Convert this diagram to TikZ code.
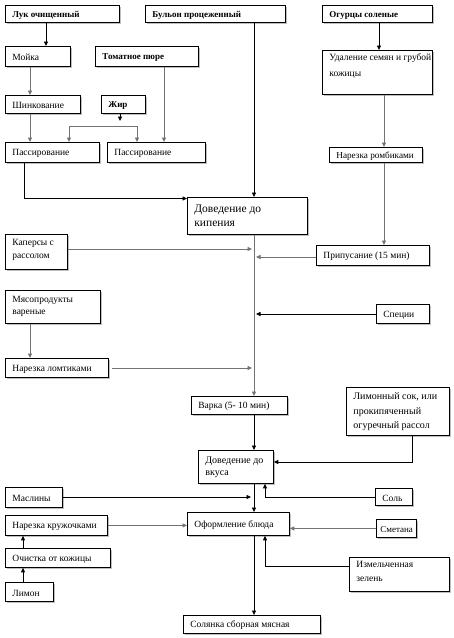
\documentclass[tikz,border=0pt]{standalone}
\usepackage{fontspec}
\setmainfont{Liberation Serif}
\usetikzlibrary{arrows.meta,shadows}
\tikzset{
  boxst/.style={draw, line width=0.8pt, fill=white, inner sep=0pt, anchor=north west,
    drop shadow={shadow xshift=1.3pt, shadow yshift=-1.3pt, fill=black, opacity=0.25}},
  ln/.style={line width=0.8pt, draw=black},
  gln/.style={line width=0.9pt, draw=black!55},
  arr/.style={-{Triangle[length=4.5pt,width=4pt]}},
}
\newcommand\fsb{\fontsize{9}{11}\selectfont\bfseries}
\newcommand\fsn{\fontsize{9.5}{12}\selectfont}
% name, x, y, w, h, inner pos, top pad, font, text
\newcommand\bx[9]{%
  \node[boxst] (#1) at (#2,#3) {\begin{minipage}[t][#5pt][#6]{#4pt}%
    \vspace*{#7pt}\leftskip=7pt#8\rightskip=-40pt plus 1fil\parindent=0pt
    \rule{0pt}{9pt}#9\par\end{minipage}};}
\begin{document}
\begin{tikzpicture}[x=1pt,y=-1pt]
\useasboundingbox (0,0) rectangle (454,638);
% boxes
\bx{luk}{5}{5}{114}{17}{c}{0}{\fsb}{Лук очищенный}
\bx{bul}{145}{5}{140}{17}{c}{0}{\fsb}{Бульон процеженный}
\bx{ogu}{322}{5}{110}{17}{c}{0}{\fsb}{Огурцы соленые}
\bx{moy}{5}{46}{65}{20}{c}{0}{\fsn}{Мойка}
\bx{tom}{95}{46}{103}{20}{c}{0}{\fsb}{Томатное пюре}
\bx{shi}{5}{95}{75}{18}{c}{0}{\fsn}{Шинкование}
\bx{zhi}{101}{95}{44}{18}{c}{0}{\fsb}{Жир}
\bx{pas1}{5}{142}{94}{20}{c}{0}{\fsn}{Пассирование}
\bx{pas2}{107}{142}{98}{20}{c}{0}{\fsn}{Пассирование}
\bx{uda}{322}{50}{110}{44}{t}{1}{\fontsize{9.5}{16}\selectfont}{Удаление семян и грубой\\кожицы}
\bx{rom}{329}{147}{93}{15}{c}{0}{\fontsize{9.2}{12}\selectfont}{Нарезка ромбиками}
\bx{kip}{187}{197}{120}{37}{t}{6}{\fontsize{11.5}{14}\selectfont}{Доведение до\\кипения}
\bx{kap}{5}{234}{62}{35}{t}{2}{\fontsize{9.5}{13}\selectfont}{Каперсы с\\рассолом}
\bx{pri}{316}{245}{113}{20}{c}{0}{\fsn}{Припусание (15 мин)}
\bx{spe}{376}{304}{53}{19}{c}{0}{\fsn}{Специи}
\bx{mya}{5}{290}{95}{33}{t}{3.5}{\fontsize{9.5}{12}\selectfont}{Мясопродукты\\вареные}
\bx{lom}{5}{358}{103}{19}{c}{0}{\fsn}{Нарезка ломтиками}
\bx{var}{191}{396}{96}{18}{c}{0}{\fsn}{Варка (5- 10 мин)}
\bx{lim}{346}{387}{103}{48}{t}{3.5}{\fontsize{10}{14.5}\selectfont}{Лимонный сок, или\\прокипяченный\\огуречный рассол}
\bx{vku}{198}{450}{75}{33}{t}{4}{\fontsize{10}{12}\selectfont}{Доведение до\\вкуса}
\bx{sol}{375}{488}{37}{17}{c}{0}{\fsn}{Соль}
\bx{mas}{5}{487}{57}{20}{c}{0}{\fsn}{Маслины}
\bx{ofo}{187}{512}{102}{23}{c}{0}{\fsn}{Оформление блюда}
\bx{kru}{5}{515}{102}{20}{c}{0}{\fsn}{Нарезка кружочками}
\bx{sme}{376}{519}{40}{18}{c}{0}{\fontsize{9}{11}\selectfont\leftskip=4pt}{Сметана}
\bx{zel}{349}{557}{100}{34}{t}{1.5}{\fontsize{9.5}{14}\selectfont}{Измельченная\\зелень}
\bx{och}{5}{548}{105}{19}{c}{0}{\fsn}{Очистка от кожицы}
\bx{lmn}{5}{582}{48}{19}{c}{0}{\fsn}{Лимон}
\bx{sln}{183}{615}{137}{18}{c}{0}{\fsn}{Солянка сборная мясная}
% coordinates
\coordinate (zj) at (120,121);
\coordinate (hl) at (69,126);
\coordinate (hr) at (137,126);
\coordinate (m1) at (252,249);
\coordinate (m2) at (256,257);
\coordinate (m3) at (256,314);
\coordinate (m4) at (252,368);
\coordinate (m5) at (251,497);
% connectors
\draw[ln,arr] (46,0 |- luk.south) -- (46,0 |- moy.north);
\draw[gln,arr] (30,0 |- moy.south) -- (30,0 |- shi.north);
\draw[gln,arr] (30,0 |- shi.south) -- (30,0 |- pas1.north);
\draw[ln,arr] (120,0 |- zhi.south) -- (zj);
\draw[gln,arr] (hl) -- (69,0 |- pas1.north);
\draw[gln,arr] (hl) -- (hr) -- (137,0 |- pas2.north);
\draw[gln,arr] (164,0 |- tom.south) -- (164,0 |- pas2.north);
\draw[ln,arr] (24,0 |- pas1.south) |- ([yshift=-1.5pt]kip.north west);
\draw[ln,arr] (254,0 |- bul.south) -- (254,0 |- kip.north);
\draw[ln,arr] (379,0 |- ogu.south) -- (379,0 |- uda.north);
\draw[gln,arr] (384,0 |- uda.south) -- (384,0 |- rom.north);
\draw[gln,arr] (384,0 |- rom.south) -- (384,0 |- pri.north);
\draw[gln,arr] (254,0 |- kip.south) -- (254,0 |- var.north);
\draw[gln,arr] (kap.east |- m1) -- (m1);
\draw[gln,arr] (pri.west |- m2) -- (m2);
\draw[ln,arr] (spe.west |- m3) -- (m3);
\draw[gln,arr] (30,0 |- mya.south) -- (30,0 |- lom.north);
\draw[gln,arr] ([xshift=3pt]lom.east |- m4) -- (m4);
\draw[ln,arr] (254,0 |- var.south) -- (254,0 |- vku.north);
\draw[ln,arr] (412,0 |- lim.south) |- (vku.east |- 0,462);
\draw[ln,arr] (sol.west) -| (265,0 |- vku.south);
\draw[ln,arr] (mas.east |- m5) -- (m5);
\draw[ln,arr] (254,0 |- vku.south) -- (254,0 |- ofo.north);
\draw[gln,arr] (kru.east) -- (kru.east -| ofo.west);
\draw[gln,arr] (sme.west) -- (sme.west -| ofo.east);
\draw[ln,arr] (zel.west |- 0,566) -| (265,0 |- ofo.south);
\draw[ln,arr] (254,0 |- ofo.south) -- (254,0 |- sln.north);
\draw[ln,arr] (23,0 |- och.north) -- (23,0 |- kru.south);
\draw[ln,arr] (23,0 |- lmn.north) -- (23,0 |- och.south);
\end{tikzpicture}
\end{document}
